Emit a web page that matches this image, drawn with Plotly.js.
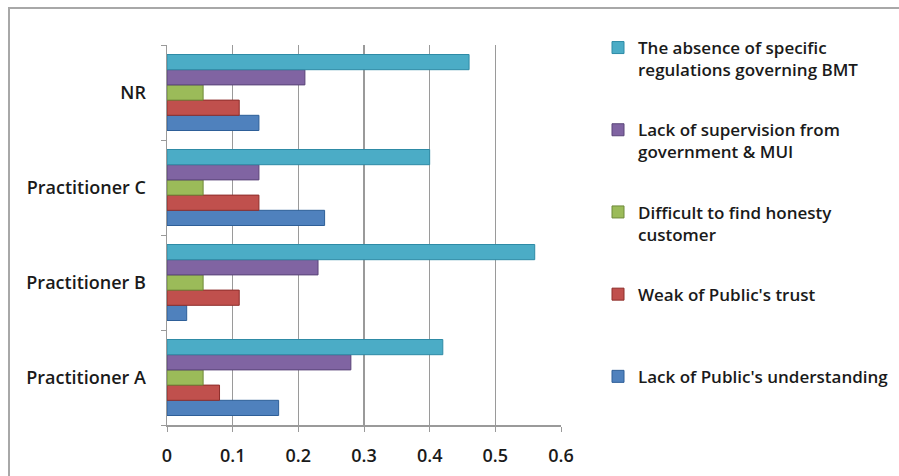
<!DOCTYPE html>
<html>
<head>
<meta charset="utf-8">
<script src="https://cdn.plot.ly/plotly-3.0.1.min.js"></script>
<style>html,body{margin:0;padding:0;background:#fff;}#chart{width:899px;height:476px;}</style>
</head>
<body>
<div id="chart"></div>
<script>
// Data
const categories = ['Practitioner A', 'Practitioner B', 'Practitioner C', 'NR'];
const seriesNames = [
  "Lack of Public's understanding",
  "Weak of Public's trust",
  "Difficult to find honesty<br>customer",
  "Lack of supervision from<br>government & MUI",
  "The absence of specific<br>regulations governing BMT"
];
const understanding = [0.17, 0.03, 0.24, 0.14];
const trust = [0.08, 0.11, 0.14, 0.11];
const honesty = [0.055, 0.055, 0.055, 0.055];
const supervision = [0.28, 0.23, 0.14, 0.21];
const regulations = [0.42, 0.56, 0.40, 0.46];
const xTicks = [0, 0.1, 0.2, 0.3, 0.4, 0.5, 0.6];

const fills = ['#4F81BD', '#C0504D', '#9BBB59', '#8064A2', '#4BACC6'];
const edges = ['#2E5F98', '#8E2E2B', '#6F8A3A', '#5A4478', '#2E8BA6'];
const values = [understanding, trust, honesty, supervision, regulations];

const W = 899, H = 476;
const L = 167, R = 338, T = 45, B = 51;
const pw = W - L - R, ph = H - T - B;
const px = v => (v - L) / pw;
const py = v => 1 - (v - T) / ph;

const traces = values.map((vals, i) => ({
  type: 'bar',
  orientation: 'h',
  name: seriesNames[i] + (seriesNames[i].indexOf('<br>') < 0 ? '<br> ' : ''),
  y: categories,
  x: vals,
  legendgroup: 'g' + i,
  legendrank: 1000 - i,
  marker: { color: fills[i], line: { color: edges[i], width: 1 } },
  hoverinfo: 'x+name'
}));

const layout = {
  width: W, height: H,
  margin: { l: L, r: R, t: T, b: B },
  paper_bgcolor: '#ffffff',
  plot_bgcolor: '#ffffff',
  font: { family: '"Open Sans", sans-serif', color: '#1a1a1a' },
  barmode: 'group',
  bargap: 0.2,
  bargroupgap: 0,
  showlegend: true,
  legend: {
    traceorder: 'grouped',
    xref: 'container', yref: 'container',
    x: 598 / W, y: 1 - 30 / H,
    xanchor: 'left', yanchor: 'top',
    valign: 'top',
    tracegroupgap: 35,
    maxheight: 470,
    font: { size: 17, color: '#1a1a1a', weight: 600 },
    bgcolor: 'rgba(0,0,0,0)'
  },
  xaxis: {
    range: [0, 0.6],
    tickvals: xTicks,
    ticktext: xTicks.map(v => v === 0 ? '0' : v.toFixed(1)),
    showgrid: true,
    gridcolor: '#9a9a9a',
    gridwidth: 1.5,
    zeroline: false,
    showline: true,
    linecolor: '#9a9a9a',
    linewidth: 1.5,
    ticks: 'outside',
    ticklen: 5,
    tickcolor: '#9a9a9a',
    ticklabelstandoff: 9,
    tickfont: { size: 18, color: '#1a1a1a', weight: 600 },
    fixedrange: true
  },
  yaxis: {
    type: 'category',
    categoryorder: 'array',
    categoryarray: categories,
    showgrid: false,
    zeroline: false,
    showline: true,
    linecolor: '#9a9a9a',
    linewidth: 1.5,
    ticks: 'outside',
    tickson: 'boundaries',
    ticklen: 5,
    tickcolor: '#9a9a9a',
    ticklabelstandoff: 16,
    tickfont: { size: 18, color: '#1a1a1a', weight: 600 },
    fixedrange: true
  },
  shapes: [
    { type: 'rect', xref: 'paper', yref: 'paper',
      x0: px(9), x1: px(W + 5), y0: py(8), y1: py(H + 5),
      line: { color: '#a8a8a8', width: 2 }, fillcolor: 'rgba(0,0,0,0)', layer: 'below' }
  ]
};

Plotly.newPlot('chart', traces, layout, { displayModeBar: false, staticPlot: true });
</script>
</body>
</html>
